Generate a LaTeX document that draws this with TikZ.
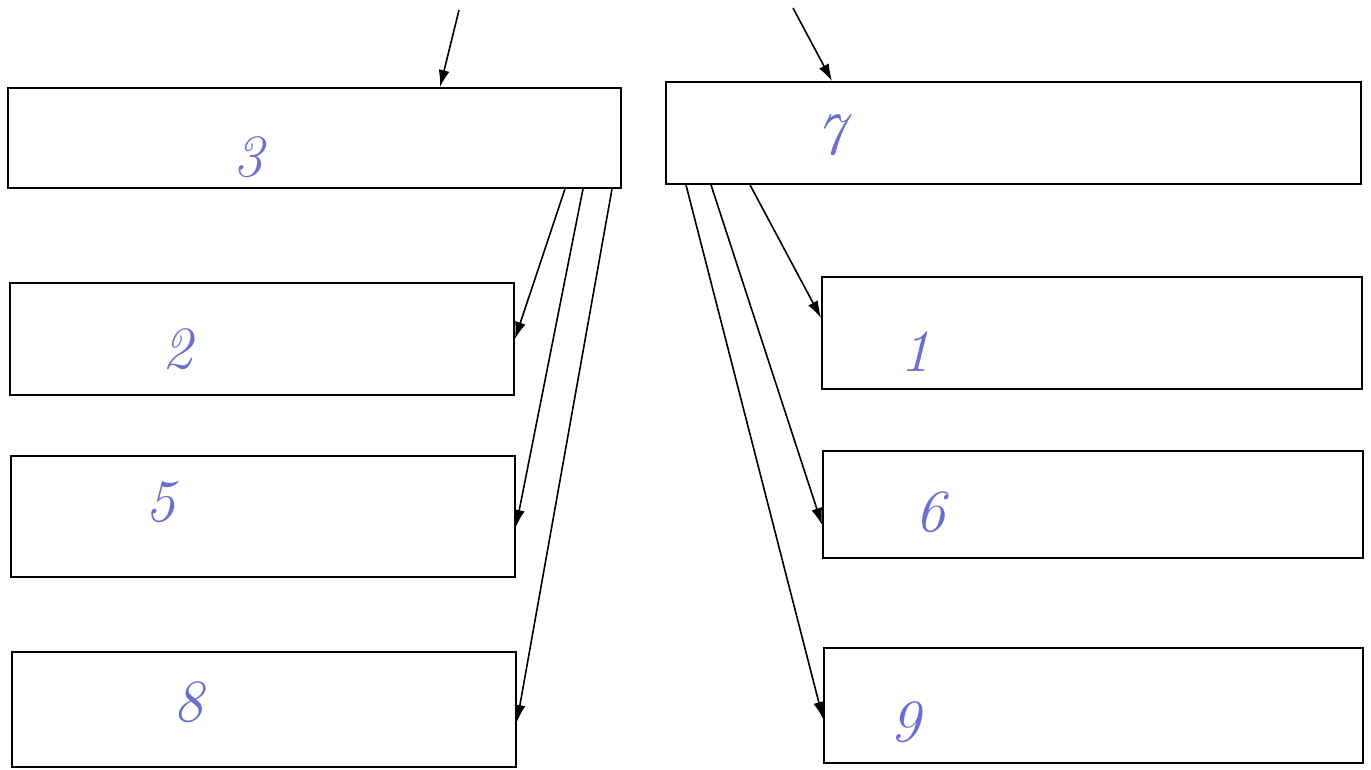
\documentclass[tikz,border=0pt]{standalone}
\usetikzlibrary{arrows.meta}
\definecolor{pen}{RGB}{105,110,215}
\tikzset{
  box/.style={draw=black, line width=1.8pt, rectangle, inner sep=0pt},
  arr/.style={draw=black, line width=1.6pt, -{Latex[length=17pt,width=11pt]}},
  digit/.style={text=pen, font=\fontsize{60}{66}\selectfont\itshape, inner sep=0pt}
}
\begin{document}
\begin{tikzpicture}[x=1pt,y=-1pt]
\useasboundingbox (0,0) rectangle (1371,769);
% boxes
\node[box, minimum width=613pt, minimum height=100pt] (b3) at (314.5,138) {};
\node[box, minimum width=695pt, minimum height=102pt] (b7) at (1013.5,133) {};
\node[box, minimum width=504pt, minimum height=112pt] (b2) at (262,339) {};
\node[box, minimum width=504pt, minimum height=121pt] (b5) at (263,516.5) {};
\node[box, minimum width=504pt, minimum height=115pt] (b8) at (264,709.5) {};
\node[box, minimum width=540pt, minimum height=112pt] (b1) at (1092,333) {};
\node[box, minimum width=540pt, minimum height=107pt] (b6) at (1093,504.5) {};
\node[box, minimum width=539pt, minimum height=115pt] (b9) at (1093.5,705.5) {};
% labels
\node[digit] (l3) at (248,157) {3};
\node[digit] (l7) at (830,135) {7};
\node[digit] (l2) at (177,349) {2};
\node[digit] (l5) at (160,502) {5};
\node[digit] (l8) at (188,702) {8};
\node[digit] (l1) at (915,352) {1};
\node[digit] (l6) at (930,512) {6};
\node[digit] (l9) at (905,722) {9};
% free ends
\coordinate (in3) at (459,10);
\coordinate (in7) at (793,8);
% incoming arrows
\draw[arr] (in3) -- ([xshift=125.5pt]b3.north);
\draw[arr] (in7) -- ([xshift=-181.5pt]b7.north);
% left fan
\draw[arr] ([xshift=250.5pt]b3.south) -- (b2.east);
\draw[arr] ([xshift=268.5pt]b3.south) -- ([yshift=-10.5pt]b5.east);
\draw[arr] ([xshift=297.5pt]b3.south) -- ([yshift=-12.5pt]b8.east);
% right fan
\draw[arr] ([xshift=-263.5pt]b7.south) -- ([yshift=15pt]b1.west);
\draw[arr] ([xshift=-302.5pt]b7.south) -- ([yshift=-20.5pt]b6.west);
\draw[arr] ([xshift=-327.5pt]b7.south) -- ([yshift=-13.5pt]b9.west);
\end{tikzpicture}
\end{document}
